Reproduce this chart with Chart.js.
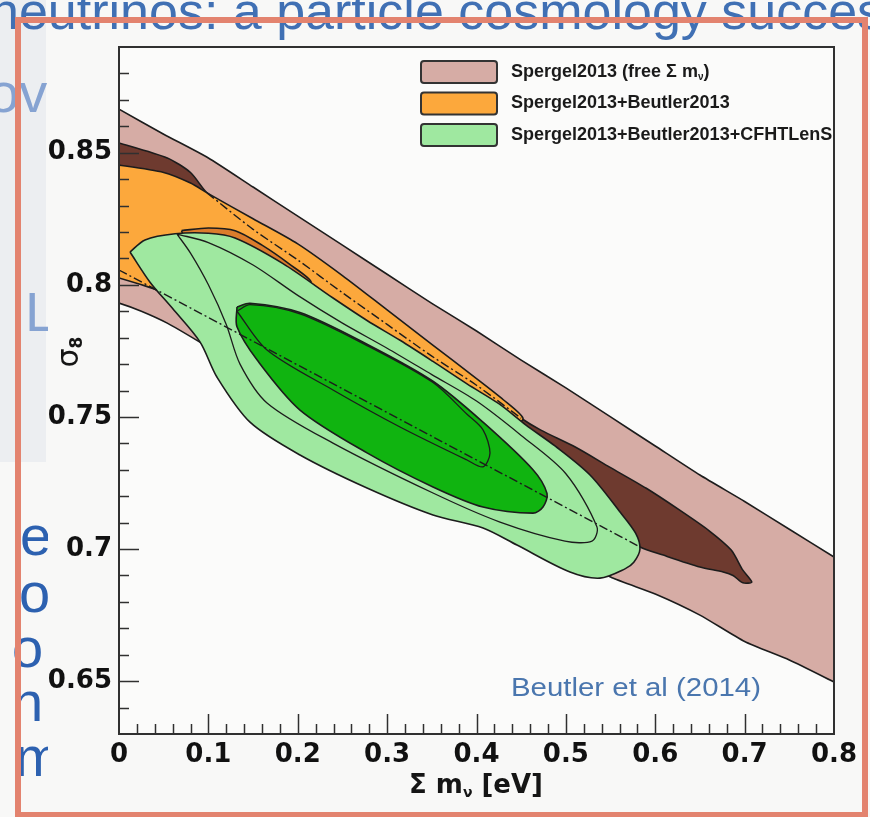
<!DOCTYPE html>
<html>
<head>
<meta charset="utf-8">
<title>sigma8 vs sum of neutrino masses</title>
<script src="https://cdn.jsdelivr.net/npm/chart.js@4.4.1/dist/chart.umd.min.js"></script>
<style>
  html, body { margin: 0; padding: 0; }
  body { width: 870px; height: 817px; position: relative; overflow: hidden; background: #f8f8f7; font-family: "Liberation Sans", Arial, sans-serif; }
  #shade { position: absolute; left: 0; top: 0; width: 46px; height: 462px; background: #eceef1; }
  #slideTitle { position: absolute; left: -10px; top: -19px; font-size: 52px; line-height: 60px; color: #4070b4; white-space: nowrap; }
  #gutter { position: absolute; left: 0; top: 0; width: 48px; height: 817px; overflow: hidden; }
  #gutter div { position: absolute; font-size: 56px; line-height: 56px; color: #2d61b0; white-space: nowrap; }
  #gutter .faint { color: #86a3d2; }
  #frame { position: absolute; left: 15px; top: 17px; width: 841px; height: 789px; border: 6px solid #e3836f; }
  #chart { position: absolute; left: 0; top: 0; }
</style>
</head>
<body>
<div id="shade"></div>
<div id="slideTitle">neutrinos: a particle cosmology success</div>
<div id="gutter">
  <div class="faint" style="left:-12px;top:65px">ov</div>
  <div class="faint" style="left:25px;top:284px">L</div>
  <div style="left:20px;top:508px">e</div>
  <div style="left:19px;top:565px">o</div>
  <div style="left:12px;top:620px">o:</div>
  <div style="left:12px;top:674px">n:</div>
  <div style="left:15px;top:729px">m</div>
</div>
<div id="frame"></div>
<canvas id="chart" width="870" height="817"></canvas>
<script>
// ===== AXES =====
const xTickValues = [0, 0.1, 0.2, 0.3, 0.4, 0.5, 0.6, 0.7, 0.8];
const xTickLabels = ['0', '0.1', '0.2', '0.3', '0.4', '0.5', '0.6', '0.7', '0.8'];
const yTickValues = [0.65, 0.7, 0.75, 0.8, 0.85];
const yTickLabels = ['0.65', '0.7', '0.75', '0.8', '0.85'];

// ===== CONTOURS (sum m_nu [eV], sigma_8) =====
// Spergel2013 (free sum m_nu), 95% band
const spergel95X = [-0.01, 0, 0.05, 0.1, 0.15, 0.2, 0.25, 0.3, 0.35, 0.4, 0.45, 0.5, 0.55, 0.6, 0.65, 0.7, 0.75, 0.8, 0.81,
                    0.81, 0.8, 0.75, 0.7, 0.65, 0.6, 0.55, 0.5, 0.4, 0.3, 0.2, 0.15, 0.09, 0.054, 0.025, 0, -0.01, -0.01];
const spergel95Y = [0.8686, 0.8665, 0.857, 0.848, 0.837, 0.826, 0.815, 0.804, 0.793, 0.7825, 0.7715, 0.761, 0.750, 0.739, 0.728, 0.718, 0.7075, 0.697, 0.695,
                    0.648, 0.6497, 0.658, 0.665, 0.675, 0.683, 0.6894, 0.699, 0.716, 0.735, 0.755, 0.766, 0.7784, 0.7855, 0.790, 0.7931, 0.7937, 0.8686];

// Spergel2013 68% (upper edge hidden under the orange region between 0.1 and 0.45)
const spergel68HiddenX = [0.0985, 0.15, 0.2, 0.25, 0.3, 0.35, 0.4, 0.45];
const spergel68HiddenY = [0.8348, 0.8210, 0.8094, 0.7970, 0.7850, 0.7730, 0.7620, 0.7495];
const spergel68X = [-0.01, 0, 0.054, 0.08, ...spergel68HiddenX,
                    0.472, 0.511, 0.549, 0.59, 0.627, 0.66, 0.685, 0.698, 0.708,
                    0.698, 0.687, 0.676, 0.65, 0.609, 0.583, 0.4, 0.2, 0, -0.01, -0.01];
const spergel68Y = [0.8545, 0.8537, 0.848, 0.8425, ...spergel68HiddenY,
                    0.7450, 0.7385, 0.7310, 0.7230, 0.7148, 0.7070, 0.6996, 0.6920, 0.6875,
                    0.6872, 0.690, 0.6913, 0.6932, 0.6977, 0.7008, 0.7337, 0.7697, 0.8056, 0.8074, 0.8545];
const spergel68LowX = [0, 0.583];
const spergel68LowY = [0.8056, 0.7008];

// Spergel2013+Beutler2013, 95%
const beutler95X = [-0.01, 0, 0.05, 0.08, 0.0985, 0.15, 0.2, 0.25, 0.3, 0.35, 0.4, 0.43, 0.452,
                    0.44, 0.42, 0.4, 0.3, 0.2, 0.1, 0.06, 0.03, 0, -0.01, -0.01];
const beutler95Y = [0.8455, 0.8453, 0.8425, 0.8385, 0.8348, 0.8250, 0.8155, 0.8035, 0.7905, 0.7775, 0.7645, 0.7565, 0.7495,
                    0.7460, 0.7455, 0.745, 0.760, 0.775, 0.790, 0.796, 0.7995, 0.8026, 0.8035, 0.8455];
// Spergel2013+Beutler2013, 68% (thin sliver above the green)
const beutler68X = [0.07, 0.1, 0.13, 0.16, 0.19, 0.215, 0.19, 0.13, 0.08, 0.07];
const beutler68Y = [0.8205, 0.8215, 0.8205, 0.8150, 0.8080, 0.8010, 0.800, 0.808, 0.812, 0.8205];

// Spergel2013+Beutler2013+CFHTLenS, 95%
const lens95X = [0.0123, 0.0291, 0.0627, 0.1, 0.1298, 0.1835, 0.2395, 0.2775, 0.3145, 0.3513, 0.3894, 0.425, 0.455, 0.4878, 0.527, 0.5606, 0.578,
                 0.5829, 0.576, 0.5661, 0.5382, 0.5046, 0.4453, 0.4073, 0.3513, 0.2775, 0.2025, 0.1466, 0.1097, 0.0906, 0.06, 0.0347, 0.0123];
const lens95Y = [0.8124, 0.8170, 0.8193, 0.8195, 0.8177, 0.8080, 0.7950, 0.7865, 0.7790, 0.7710, 0.7625, 0.7550, 0.7470, 0.7390, 0.7280, 0.7140, 0.7060,
                 0.7000, 0.6950, 0.6925, 0.6890, 0.6913, 0.7015, 0.7080, 0.7129, 0.7231, 0.7356, 0.7480, 0.7650, 0.7784, 0.7910, 0.8010, 0.8124];
// Spergel2013+Beutler2013+CFHTLenS, 68%
const lens68X = [0.132, 0.1466, 0.2025, 0.2775, 0.3513, 0.4073, 0.4632, 0.4789, 0.4744, 0.4632, 0.4073, 0.3513, 0.2775, 0.2025, 0.1544, 0.132, 0.132];
const lens68Y = [0.7916, 0.7930, 0.7895, 0.7775, 0.7635, 0.7480, 0.7300, 0.7210, 0.7159, 0.7136, 0.7159, 0.7235, 0.7364, 0.7526, 0.7716, 0.7841, 0.7916];

// unfilled contours drawn inside the green regions
const open95X = [0.0649, 0.1, 0.15, 0.2, 0.25, 0.3, 0.35, 0.4, 0.45, 0.5, 0.5348, 0.5292, 0.499, 0.4263, 0.3513, 0.2394, 0.1656, 0.1354, 0.12, 0.1, 0.08, 0.0649];
const open95Y = [0.8192, 0.8160, 0.8075, 0.7960, 0.7855, 0.7760, 0.7660, 0.7560, 0.7430, 0.7285, 0.7083, 0.7030, 0.7030, 0.7102, 0.7212, 0.7401, 0.7553, 0.7700, 0.7850, 0.8000, 0.8120, 0.8192];
const open68X = [0.132, 0.1466, 0.2025, 0.2775, 0.3513, 0.3894, 0.4073, 0.4151, 0.4073, 0.3894, 0.3144, 0.2394, 0.1656, 0.132];
const open68Y = [0.7900, 0.7925, 0.7890, 0.7770, 0.7630, 0.7510, 0.7451, 0.7363, 0.7311, 0.7337, 0.7462, 0.7602, 0.7753, 0.7900];

const LINE = '#1c1c1c';

function pts(xs, ys) {
    return xs.map((x, i) => ({ x: x, y: ys[i] }));
}

function region(label, xs, ys, color, order, tension) {
    return {
        label: label, data: pts(xs, ys), order: order,
        fill: 'shape', backgroundColor: color,
        borderColor: LINE, borderWidth: 1.6,
        pointRadius: 0, tension: tension
    };
}

function outline(label, xs, ys, order, dash) {
    return {
        label: label, data: pts(xs, ys), order: order,
        fill: false, backgroundColor: 'transparent',
        borderColor: LINE, borderWidth: dash ? 1.4 : 1.3, borderDash: dash || [],
        pointRadius: 0, tension: 0.3
    };
}

// ===== DRAWING HELPERS =====
function drawRich(ctx, parts, x, y, align) {
    let total = 0;
    parts.forEach(p => { ctx.font = p.font; total += ctx.measureText(p.t).width; });
    let cx = align === 'center' ? x - total / 2 : x;
    parts.forEach(p => {
        ctx.font = p.font;
        ctx.fillText(p.t, cx, y + (p.dy || 0));
        cx += ctx.measureText(p.t).width;
    });
}

const plotBg = {
    id: 'plotBg',
    beforeDraw(chart) {
        const { ctx, chartArea: a } = chart;
        ctx.save();
        ctx.fillStyle = '#fbfbfa';
        ctx.fillRect(a.left, a.top, a.right - a.left, a.bottom - a.top);
        ctx.restore();
    }
};

const frameAndTicks = {
    id: 'frameAndTicks',
    afterDatasetsDraw(chart) {
        const { ctx, chartArea: a, scales: { x, y } } = chart;
        ctx.save();
        ctx.strokeStyle = '#303030';
        ctx.lineWidth = 1.5;
        ctx.beginPath();
        // inward ticks on the bottom axis: major every 0.1, minor every 0.02
        for (let i = 1; i < 40; i++) {
            const px = Math.round(x.getPixelForValue(i * 0.02)) + 0.5;
            const len = i % 5 === 0 ? 20 : 10;
            ctx.moveTo(px, a.bottom);
            ctx.lineTo(px, a.bottom - len);
        }
        // inward ticks on the left axis: major every 0.05, minor every 0.01
        for (let i = 64; i <= 88; i++) {
            const py = Math.round(y.getPixelForValue(i / 100)) + 0.5;
            const len = i % 5 === 0 ? 20 : 10;
            ctx.moveTo(a.left, py);
            ctx.lineTo(a.left + len, py);
        }
        ctx.stroke();
        ctx.lineWidth = 2;
        ctx.strokeRect(a.left, a.top, a.right - a.left, a.bottom - a.top);
        ctx.restore();
    },
    afterDraw(chart) {
        const { ctx } = chart;
        ctx.save();
        ctx.fillStyle = '#151515';
        ctx.textBaseline = 'middle';

        // axis titles
        drawRich(ctx, [
            { t: '\u03A3 m', font: 'bold 26px "DejaVu Sans"' },
            { t: '\u03BD', font: 'bold 14px "DejaVu Sans"', dy: 7 },
            { t: ' [eV]', font: 'bold 26px "DejaVu Sans"' }
        ], 476, 786, 'center');

        ctx.save();
        ctx.translate(70, 352);
        ctx.rotate(-Math.PI / 2);
        drawRich(ctx, [
            { t: '\u03C3', font: '30px "DejaVu Sans"' },
            { t: '8', font: 'bold 17px "DejaVu Sans"', dy: 8 }
        ], 0, 0, 'center');
        ctx.restore();

        // legend
        const entries = [
            { color: '#d6aca5', parts: [
                { t: 'Spergel2013 (free \u03A3 m', font: 'bold 18px "Liberation Sans"' },
                { t: '\u03BD', font: 'bold 10px "Liberation Sans"', dy: 5 },
                { t: ')', font: 'bold 18px "Liberation Sans"' }] },
            { color: '#fca83c', parts: [{ t: 'Spergel2013+Beutler2013', font: 'bold 18px "Liberation Sans"' }] },
            { color: '#9fe8a0', parts: [{ t: 'Spergel2013+Beutler2013+CFHTLenS', font: 'bold 18px "Liberation Sans"' }] }
        ];
        entries.forEach((e, i) => {
            const top = 61 + i * 31.5;
            ctx.beginPath();
            ctx.roundRect(421, top, 76, 22, 3);
            ctx.fillStyle = e.color;
            ctx.fill();
            ctx.lineWidth = 2;
            ctx.strokeStyle = '#333';
            ctx.stroke();
            ctx.fillStyle = '#1a1a1a';
            drawRich(ctx, e.parts, 511, top + 11, 'left');
        });

        // reference note
        const note = 'Beutler et al (2014)';
        ctx.font = '25px "Liberation Sans"';
        const w = ctx.measureText(note).width;
        ctx.save();
        ctx.translate(511, 689);
        ctx.scale(250 / w, 1);
        ctx.fillStyle = '#4a76ae';
        ctx.fillText(note, 0, 0);
        ctx.restore();
        ctx.restore();
    }
};

// ===== CHART =====
const tickFont = { family: 'DejaVu Sans', size: 26, weight: 'bold' };

new Chart(document.getElementById('chart'), {
    type: 'line',
    data: {
        datasets: [
            region('Spergel2013 (free \u03A3 m\u03BD) 95%', spergel95X, spergel95Y, '#d6aca5', 10, 0.2),
            region('Spergel2013 68%', spergel68X, spergel68Y, '#6e3a2f', 9, 0.25),
            region('Spergel2013+Beutler2013 95%', beutler95X, beutler95Y, '#fca83c', 8, 0.25),
            region('Spergel2013+Beutler2013 68%', beutler68X, beutler68Y, '#db7c2c', 7, 0.3),
            region('Spergel2013+Beutler2013+CFHTLenS 95%', lens95X, lens95Y, '#9fe8a0', 6, 0.3),
            outline('95% outline', open95X, open95Y, 5),
            region('Spergel2013+Beutler2013+CFHTLenS 68%', lens68X, lens68Y, '#10b410', 4, 0.3),
            outline('68% outline', open68X, open68Y, 3),
            outline('Spergel2013 68% (hidden upper edge)', spergel68HiddenX, spergel68HiddenY, 2, [9, 3, 2, 3]),
            outline('Spergel2013 68% (hidden lower edge)', spergel68LowX, spergel68LowY, 1, [9, 3, 2, 3])
        ]
    },
    options: {
        responsive: false,
        devicePixelRatio: 1,
        animation: false,
        events: [],
        layout: { padding: { left: 0, top: 47, right: 36, bottom: 0 } },
        plugins: {
            legend: { display: false },
            tooltip: { enabled: false }
        },
        scales: {
            x: {
                type: 'linear',
                min: 0,
                max: 0.8,
                grid: { display: false, drawTicks: false },
                border: { display: false },
                afterBuildTicks: scale => { scale.ticks = xTickValues.map(v => ({ value: v })); },
                afterFit: scale => { scale.height = 83; },
                ticks: {
                    autoSkip: false, maxRotation: 0, minRotation: 0,
                    padding: 6, color: '#111', font: tickFont,
                    callback: (value, index) => xTickLabels[index]
                }
            },
            y: {
                type: 'linear',
                min: 0.63,
                max: 0.89,
                grid: { display: false, drawTicks: false },
                border: { display: false },
                afterBuildTicks: scale => { scale.ticks = yTickValues.map(v => ({ value: v })); },
                afterFit: scale => { scale.width = 119; },
                ticks: {
                    autoSkip: false, padding: 7, color: '#111', font: tickFont,
                    callback: (value, index) => yTickLabels[index]
                }
            }
        }
    },
    plugins: [plotBg, frameAndTicks]
});
</script>
</body>
</html>
